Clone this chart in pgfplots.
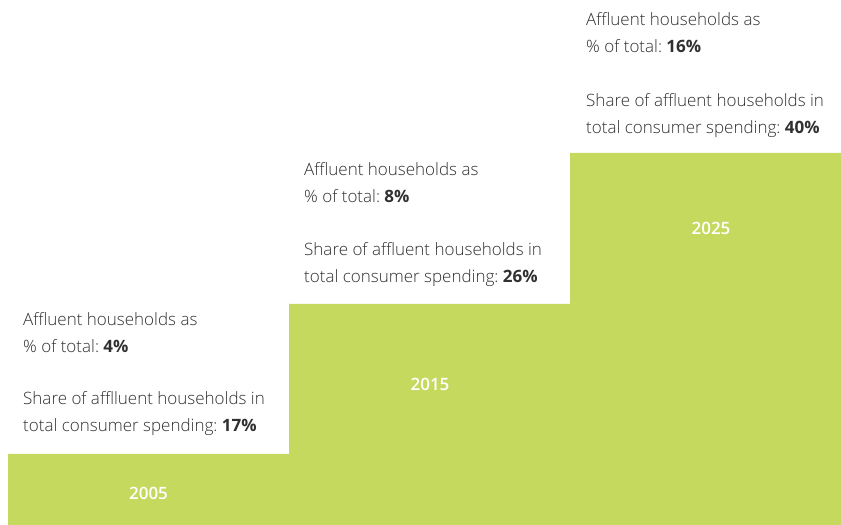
\documentclass[border=0pt]{standalone}
\usepackage{pgfplots}
\pgfplotsset{compat=1.18}
\usepackage{fontspec}
\setmainfont{Open Sans}[UprightFont=* Light, BoldFont=* Bold]
\newfontfamily\semib{Open Sans Semibold}
\frenchspacing
\definecolor{barcol}{HTML}{C5D95E}
\definecolor{txt}{HTML}{303030}
\begin{document}
\begin{tikzpicture}
\begin{axis}[
  scale only axis, width=841bp, height=525bp,
  xmin=0, xmax=841, ymin=0, ymax=525,
  hide axis, clip=true,
  ybar, bar width=281, bar shift=0pt,
]
\addplot[fill=barcol, draw=none] coordinates {(148.5,71) (429.5,221) (710.5,372)};
% year labels
\begin{scope}[every node/.style={font=\fontsize{17bp}{20bp}\semib, text=white, inner sep=0pt}]
\node at (axis cs:148.5,32) {2005};
\node at (axis cs:430,141) {2015};
\node at (axis cs:711,297) {2025};
\end{scope}
\begin{scope}[every node/.style={font=\fontsize{17bp}{20bp}\selectfont, text=txt, inner sep=0pt, anchor=base west}]
\node at (axis cs:23,199.5) {Affluent households as};
\node at (axis cs:23,172) {\% of total: \textbf{4\%}};
\node at (axis cs:23,120) {Share of afflluent households in};
\node at (axis cs:23,93) {total consumer spending: \textbf{17\%}};
\node at (axis cs:304,349.5) {Affluent households as};
\node at (axis cs:304,322) {\% of total: \textbf{8\%}};
\node at (axis cs:304,269.5) {Share of affluent households in};
\node at (axis cs:304,242.5) {total consumer spending: \textbf{26\%}};
\node at (axis cs:586,499.5) {Affluent households as};
\node at (axis cs:586,472) {\% of total: \textbf{16\%}};
\node at (axis cs:586,418.5) {Share of affluent households in};
\node at (axis cs:586,391.5) {total consumer spending: \textbf{40\%}};
\end{scope}
\end{axis}
\pgfresetboundingbox
\useasboundingbox (current axis.south west) rectangle (current axis.north east);
\end{tikzpicture}
\end{document}
